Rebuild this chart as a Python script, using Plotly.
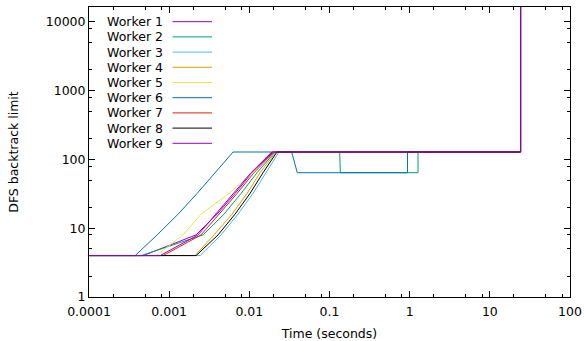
import plotly.graph_objects as go

# ---- data (time in seconds, DFS backtrack limit) ----
names = ["Worker 1", "Worker 2", "Worker 3", "Worker 4", "Worker 5",
         "Worker 6", "Worker 7", "Worker 8", "Worker 9"]
colors = ["#9400d3", "#009e73", "#56b4e9", "#e69f00", "#f0e442",
          "#0072b2", "#e51e10", "#000000", "#9400d3"]

w1_t = [1e-4, 4.74e-4, 2.169e-3, 3.961e-3, 6.636e-3, 0.01080, 0.01973, 24.19, 24.19]
w1_v = [4, 4, 8, 16, 32, 64, 128, 128, 65536]

w2_t = [1e-4, 4.48e-4, 2.651e-3, 4.840e-3, 7.880e-3, 0.01247, 0.02089, 0.1340, 0.1365, 1.272, 1.272, 24.19, 24.19]
w2_v = [4, 4, 8, 16, 32, 64, 128, 128, 64, 64, 128, 128, 65536]

w3_t = [1e-4, 2.433e-3, 4.442e-3, 7.233e-3, 0.01112, 0.01614, 0.02344, 24.19, 24.19]
w3_v = [4, 4, 8, 16, 32, 64, 128, 128, 65536]

w4_t = [1e-4, 2.108e-3, 3.634e-3, 6.089e-3, 9.363e-3, 0.01359, 0.02150, 24.19, 24.19]
w4_v = [4, 4, 8, 16, 32, 64, 128, 128, 65536]

w5_t = [1e-4, 6.89e-4, 1.493e-3, 2.503e-3, 5.587e-3, 0.01080, 0.01863, 24.19, 24.19]
w5_v = [4, 4, 8, 16, 32, 64, 128, 128, 65536]

w6_t = [1e-4, 3.77e-4, 7.09e-4, 1.294e-3, 2.233e-3, 3.740e-3, 6.266e-3, 0.03373, 0.03963, 0.9389, 0.9389, 24.19, 24.19]
w6_v = [4, 4, 8, 16, 32, 64, 128, 128, 64, 64, 128, 128, 65536]

w7_t = [1e-4, 8.42e-4, 2.503e-3, 4.195e-3, 7.028e-3, 0.01144, 0.02031, 24.19, 24.19]
w7_v = [4, 4, 8, 16, 32, 64, 128, 128, 65536]

w8_t = [1e-4, 2.169e-3, 4.076e-3, 6.636e-3, 0.01020, 0.01482, 0.02213, 24.19, 24.19]
w8_v = [4, 4, 8, 16, 32, 64, 128, 128, 65536]

w9_t = [1e-4, 7.73e-4, 2.297e-3, 3.848e-3, 6.449e-3, 0.01050, 0.01917, 24.19, 24.19]
w9_v = [4, 4, 8, 16, 32, 64, 128, 128, 65536]

x_tickvals = [0.0001, 0.001, 0.01, 0.1, 1, 10, 100]
x_ticktext = ["0.0001", "0.001", "0.01", "0.1", "1", "10", "100"]
y_tickvals = [1, 10, 100, 1000, 10000]
y_ticktext = ["1", "10", "100", "1000", "10000"]

series_t = [w1_t, w2_t, w3_t, w4_t, w5_t, w6_t, w7_t, w8_t, w9_t]
series_v = [w1_v, w2_v, w3_v, w4_v, w5_v, w6_v, w7_v, w8_v, w9_v]

# ---- figure ----
W, H = 584, 341
ML, MR, MT, MB = 89, 14, 7, 44
PW, PH = W - ML - MR, H - MT - MB

def px2paper_x(px):
    return (px - ML) / PW

def px2paper_y(py):
    return (H - MB - py) / PH

FONT = "DejaVu Sans"
fig = go.Figure()
for name, col, t, v in zip(names, colors, series_t, series_v):
    fig.add_trace(go.Scatter(x=t, y=v, mode="lines", name=name,
                             line=dict(color=col, width=1), showlegend=False,
                             hoverinfo="skip"))

minor_x = [m * 10.0 ** e for e in range(-4, 2) for m in (2, 5, 8)]
minor_y = [m * 10.0 ** e for e in range(0, 5) for m in (2, 5, 8)]

axis_common = dict(showline=True, linecolor="black", linewidth=1, mirror="allticks",
                   ticks="inside", ticklen=6, tickwidth=1, tickcolor="black",
                   showgrid=False, zeroline=False, automargin=False,
                   tickfont=dict(family=FONT, size=12.5, color="black"))

fig.update_xaxes(type="log", range=[-4, 2], tickmode="array",
                 tickvals=x_tickvals, ticktext=x_ticktext, ticklabelstandoff=3,
                 minor=dict(tickmode="array", tickvals=minor_x, ticks="inside",
                            ticklen=3, tickcolor="black", tickwidth=1, showgrid=False),
                 title=dict(text="Time (seconds)", font=dict(family=FONT, size=12.5, color="black"),
                            standoff=11),
                 **axis_common)
fig.update_yaxes(type="log", range=[0, 4.2144], tickmode="array",
                 tickvals=y_tickvals, ticktext=y_ticktext,
                 minor=dict(tickmode="array", tickvals=minor_y, ticks="inside",
                            ticklen=3, tickcolor="black", tickwidth=1, showgrid=False),
                 title=dict(text="DFS backtrack limit", font=dict(family=FONT, size=12.5, color="black"),
                            standoff=24),
                 **axis_common)

# custom gnuplot-style key: text, then line sample
row_y = [21.7 + 15.2 * i for i in range(len(names))]
for name, col, ry in zip(names, colors, row_y):
    fig.add_annotation(x=px2paper_x(105), y=px2paper_y(ry), xref="paper", yref="paper",
                       text=name, showarrow=False, xanchor="left", yanchor="middle",
                       font=dict(family=FONT, size=12.5, color="black"))
    fig.add_shape(type="line", xref="paper", yref="paper",
                  x0=px2paper_x(172.5), x1=px2paper_x(212), y0=px2paper_y(ry), y1=px2paper_y(ry),
                  line=dict(color=col, width=1))

fig.update_layout(width=W, height=H, margin=dict(l=ML, r=MR, t=MT, b=MB, autoexpand=False),
                  plot_bgcolor="white", paper_bgcolor="white", hovermode=False,
                  font=dict(family=FONT, size=12.5, color="black"))

fig.write_html("out.html", config={"displayModeBar": False},
               post_script="document.body.style.margin='0';document.body.style.padding='0';")
